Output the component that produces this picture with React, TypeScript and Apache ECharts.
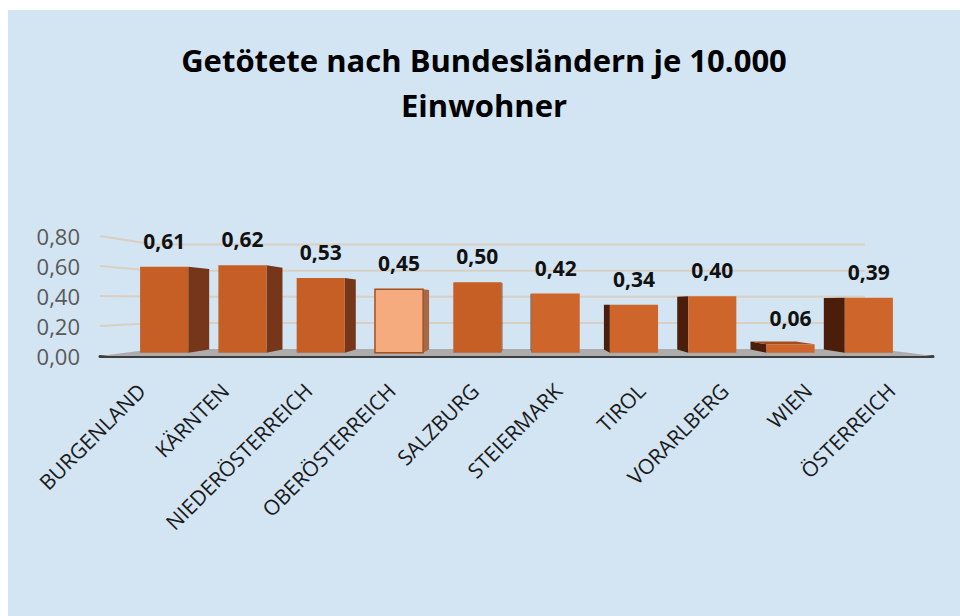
import React, { useEffect, useRef } from 'react';
import * as echarts from 'echarts';

const categories = [
  'BURGENLAND',
  'KÄRNTEN',
  'NIEDERÖSTERREICH',
  'OBERÖSTERREICH',
  'SALZBURG',
  'STEIERMARK',
  'TIROL',
  'VORARLBERG',
  'WIEN',
  'ÖSTERREICH',
];
const values = [0.61, 0.62, 0.53, 0.45, 0.5, 0.42, 0.34, 0.4, 0.06, 0.39];
const yTicks = [0, 0.2, 0.4, 0.6, 0.8];
const titleText = 'Getötete nach Bundesländern je 10.000\nEinwohner';
const highlighted = 'OBERÖSTERREICH';

// perspective parameters (style)
const S_FRONT = 0.94;
const S_BACK = 0.88;
const S_WALL = 0.87;
const VANISH_VALUE = 0.36;

const fmt = (v: number) => v.toFixed(2).replace('.', ',');

export default function App() {
  const ref = useRef<HTMLDivElement>(null);

  useEffect(() => {
    const chart = echarts.init(ref.current as HTMLDivElement, null, { renderer: 'svg' });

    const vanish = (params: any, api: any) => [
      params.coordSys.x + params.coordSys.width / 2,
      api.coord([0, VANISH_VALUE])[1],
    ];
    const proj = (V: number[], p: number[], s: number) => [
      V[0] + s * (p[0] - V[0]),
      V[1] + s * (p[1] - V[1]),
    ];

    const renderWalls = (params: any, api: any) => {
      const cs = params.coordSys;
      const V = vanish(params, api);
      const xl = cs.x;
      const xr = cs.x + cs.width;
      const y0 = api.coord([0, 0])[1];
      const children: any[] = [];
      children.push({
        type: 'polygon',
        shape: {
          points: [
            [xl, y0],
            [xr, y0],
            proj(V, [xr, y0], S_WALL),
            proj(V, [xl, y0], S_WALL),
          ],
        },
        style: { fill: '#acacac' },
      });
      yTicks.forEach((t) => {
        if (t === 0) return;
        const y = api.coord([0, t])[1];
        const backRight = proj(V, [xr, y], S_WALL);
        children.push({
          type: 'polyline',
          shape: {
            points: [[xl, y], proj(V, [xl, y], S_WALL), [backRight[0] - 14, backRight[1]]],
          },
          style: { stroke: '#d9cfc3', lineWidth: 2, fill: null },
        });
      });
      return { type: 'group', children };
    };

    const renderBars = (params: any, api: any) => {
      const V = vanish(params, api);
      const idx = params.dataIndex;
      const v = api.value(1);
      const top = api.coord([api.value(0), v]);
      const base = api.coord([api.value(0), 0]);
      const bw = api.size([1, 0])[0] * 0.615;
      const xl = top[0] - bw / 2;
      const xr = top[0] + bw / 2;
      const yt = top[1];
      const yb = base[1];
      const F = (p: number[]) => proj(V, p, S_FRONT);
      const B = (p: number[]) => proj(V, p, S_BACK);
      const FLT = F([xl, yt]);
      const FRT = F([xr, yt]);
      const FLB = F([xl, yb]);
      const FRB = F([xr, yb]);
      const BLT = B([xl, yt]);
      const BRT = B([xr, yt]);
      const BLB = B([xl, yb]);
      const BRB = B([xr, yb]);
      const leftOfCenter = top[0] < V[0];
      const isHi = categories[idx] === highlighted;
      const front = isHi ? '#f6ab7f' : leftOfCenter ? '#c65f26' : '#ce662b';
      const side = isHi ? '#a66848' : leftOfCenter ? '#76361a' : '#4a1e0b';
      const topCol = isHi ? '#d98a5c' : '#a34c1c';
      const children: any[] = [];
      if (leftOfCenter) {
        children.push({
          type: 'polygon',
          shape: { points: [FRT, BRT, BRB, FRB] },
          style: { fill: side },
        });
      } else {
        children.push({
          type: 'polygon',
          shape: { points: [FLT, BLT, BLB, FLB] },
          style: { fill: side },
        });
      }
      if (FLT[1] > V[1]) {
        children.push({
          type: 'polygon',
          shape: { points: [FLT, FRT, BRT, BLT] },
          style: { fill: topCol },
        });
      }
      children.push({
        type: 'rect',
        shape: { x: FLT[0], y: FLT[1], width: FRT[0] - FLT[0], height: FLB[1] - FLT[1] },
        style: isHi
          ? { fill: front, stroke: '#a5501e', lineWidth: 1.5 }
          : { fill: front },
      });
      children.push({
        type: 'text',
        x: (FLT[0] + FRT[0]) / 2,
        y: FLT[1] - 26,
        style: {
          text: fmt(v),
          fill: '#111111',
          fontSize: 21,
          fontWeight: 'bold',
          fontFamily: '"Open Sans", sans-serif',
          align: 'center',
          verticalAlign: 'middle',
        },
      });
      return { type: 'group', children };
    };

    chart.setOption({
      animation: false,
      backgroundColor: '#d3e4f2',
      title: {
        text: titleText,
        left: 'center',
        top: 27,
        padding: [0, 0, 0, 12],
        textStyle: {
          fontFamily: '"Open Sans", sans-serif',
          fontWeight: 'bold',
          fontSize: 31,
          lineHeight: 45,
          color: '#000000',
        },
      },
      grid: { left: 92, right: 27, top: 226, bottom: 260 },
      xAxis: {
        type: 'category',
        data: categories,
        axisTick: { show: false },
        axisLine: { show: true, lineStyle: { color: '#3d3d3d', width: 3 } },
        axisLabel: {
          interval: 0,
          rotate: 45,
          margin: 31,
          fontSize: 21,
          fontFamily: '"Open Sans", sans-serif',
          color: '#1a1a1a',
        },
      },
      yAxis: {
        type: 'value',
        min: 0,
        max: 0.8,
        interval: 0.2,
        axisLine: { show: false },
        axisTick: { show: false },
        splitLine: { show: false },
        axisLabel: {
          formatter: (val: number) => fmt(val),
          fontSize: 22,
          fontFamily: '"Open Sans", sans-serif',
          color: '#595959',
          margin: 20,
        },
      },
      series: [
        {
          type: 'custom',
          silent: true,
          z: 1,
          data: [[0, 0]],
          encode: { x: 0, y: 1 },
          renderItem: renderWalls,
        },
        {
          type: 'custom',
          z: 3,
          data: values.map((v, i) => [i, v]),
          encode: { x: 0, y: 1 },
          renderItem: renderBars,
        },
      ],
    });

    return () => chart.dispose();
  }, []);

  return (
    <div
      ref={ref}
      style={{ position: 'absolute', left: 8, top: 10, width: 952, height: 606 }}
    />
  );
}
